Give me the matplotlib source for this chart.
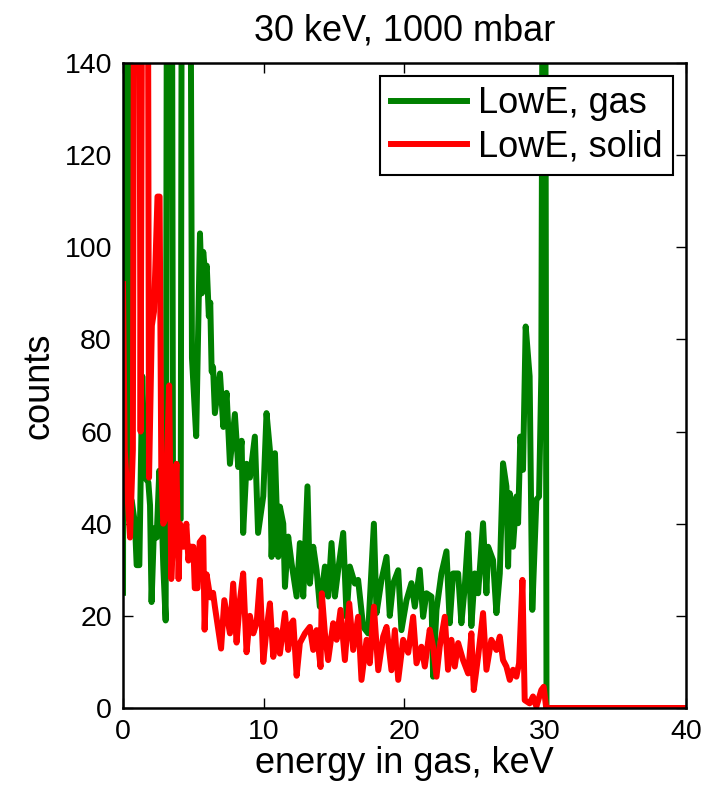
import matplotlib
matplotlib.use("Agg")
import matplotlib.pyplot as plt

plt.rcParams['font.family'] = ['Liberation Sans', 'DejaVu Sans']

# Spectrum: energy deposited in gas (keV) vs. counts
gas_energy = [0.0, 0.1, 0.28, 0.45, 0.62, 0.85, 0.97, 1.16, 1.37, 1.56, 1.8, 1.92,
              2.03, 2.2, 2.39, 2.58, 2.75, 2.86, 3.03, 3.2, 3.4, 3.55, 3.75, 4.0,
              4.1, 4.25, 4.65, 4.9, 5.2, 5.47, 5.6, 5.7, 5.85, 5.95, 6.1, 6.2, 6.3,
              6.4, 6.53, 6.89, 7.13, 7.36, 7.6, 7.95, 8.19, 8.43, 8.54, 8.78, 9.02,
              9.37, 9.6, 9.97, 10.2, 10.44, 10.56, 10.8, 11.03, 11.15, 11.39, 11.51,
              11.74, 11.98, 12.34, 12.57, 12.81, 13.11, 13.28, 13.52, 13.76, 13.99,
              14.35, 14.58, 14.82, 15.06, 15.29, 15.65, 15.89, 16.12, 16.48, 16.71,
              17.07, 17.42, 17.83, 18.02, 18.37, 18.73, 18.96, 19.2, 19.56, 19.79,
              20.15, 20.5, 20.74, 21.09, 21.33, 21.57, 21.92, 22.04, 22.28, 22.63,
              22.99, 23.22, 23.46, 23.82, 24.05, 24.29, 24.53, 24.76, 25.0, 25.24,
              25.59, 25.83, 25.95, 26.3, 26.54, 26.78, 27.01, 27.25, 27.37, 27.49,
              27.72, 27.96, 28.08, 28.24, 28.43, 28.62, 28.9, 29.09, 29.38, 29.57,
              29.73, 29.95, 30.1, 40.0]
gas_counts = [25, 300, 300, 46, 45, 40, 31, 31, 72, 50, 49, 44,
              23, 39, 37, 51.5, 42, 31, 19, 300, 300, 50, 52, 41,
              41, 300, 300, 76, 59, 103, 90, 99, 94, 96, 85, 88, 73,
              74, 64, 72.6, 61, 68.4, 53, 63.8, 52.3, 58, 38, 53, 50,
              58.9, 38, 46, 64, 56, 32.8, 55.3, 32.8, 43.7, 40, 26.3,
              37.2, 31.4, 24.2, 35.8, 24.2, 48.1, 27, 35, 29.9, 22,
              30.7, 24.2, 35.8, 24.2, 29.9, 38, 19.8, 30.7, 27, 27.8,
              17.6, 16.2, 40, 20.6, 27.8, 32.8, 20, 27, 29.9, 16.9,
              23.4, 27.1, 22, 30, 19.8, 24.9, 24.2, 6.8, 21.3, 29.2,
              34, 18.4, 29.2, 29.2, 18.4, 26.3, 37.9, 17.8, 29.2, 24.9,
              40.1, 24.9, 35, 32.1, 20.6, 29.2, 53.1, 48.1, 30.7, 46.6,
              35, 45.9, 40.1, 58.9, 51.7, 82.8, 72, 21.3, 45.2, 45.9,
              72, 300, 0, 0]

solid_energy = [0.0, 0.12, 0.3, 0.5, 0.7, 0.88, 1.05, 1.25, 1.5, 1.68, 1.85, 2.05,
                2.2, 2.45, 2.6, 2.72, 2.86, 3.0, 3.28, 3.43, 3.6, 3.8, 3.95, 4.05,
                4.3, 4.5, 4.65, 4.75, 5.0, 5.1, 5.3, 5.45, 5.7, 5.8, 5.94, 6.2, 6.4,
                6.53, 6.97, 7.2, 7.6, 7.83, 8.07, 8.31, 8.54, 8.78, 9.02, 9.26, 9.5,
                9.73, 9.97, 10.2, 10.44, 10.68, 10.92, 11.15, 11.51, 11.74, 11.98,
                12.1, 12.34, 12.57, 12.93, 13.28, 13.52, 13.76, 14.04, 14.13, 14.35,
                14.58, 14.94, 15.18, 15.46, 15.77, 16.08, 16.36, 16.71, 16.95, 17.31,
                17.54, 17.83, 18.14, 18.49, 18.73, 19.08, 19.32, 19.56, 19.91, 20.27,
                20.62, 20.86, 21.21, 21.45, 21.8, 22.04, 22.28, 22.51, 22.87, 23.1,
                23.34, 23.58, 23.82, 24.17, 24.53, 24.76, 24.93, 25.24, 25.59, 25.83,
                26.18, 26.54, 26.78, 27.01, 27.25, 27.49, 27.72, 27.96, 28.15, 28.39,
                28.55, 28.9, 29.14, 29.38, 29.73, 29.9, 30.08, 40.0]
solid_counts = [92, 56, 47, 37, 56, 300, 300, 60, 300, 300, 50, 83,
                86, 111, 111, 52, 40, 41, 70, 28, 40, 53, 28, 40,
                35, 40, 32, 35, 35, 26, 26, 36, 37, 17, 29, 24, 25,
                22, 12.9, 23.4, 16.2, 27, 14.2, 23.4, 29.2, 12.1, 20, 16.2, 18.5,
                27.8, 10, 17, 22.7, 11.1, 16.9, 11.8, 20.6, 12.6, 18.4,
                19, 7, 14.1, 16.2, 17.6, 12.6, 16.9, 8.9, 24.9, 16.2,
                10.4, 18.4, 14.8, 21.3, 10.4, 22.7, 12.6, 19.8, 6.1, 14.8,
                9.7, 22, 8.2, 15.5, 17.6, 8.2, 16.9, 6.1, 14.8, 12,
                19.8, 9.7, 13.3, 9, 17, 13.3, 6.8, 13.3, 19.8, 8.3,
                14.8, 9, 14.1, 10.4, 7.5, 16.2, 3.9, 11.2, 20.6, 8.3,
                14.8, 12.6, 15.5, 10.4, 9, 6.1, 8.3, 6.8, 9.7, 27.8,
                1.7, 1, 2.5, 0.3, 3.9, 4.6, 0, 0]

fig = plt.figure(figsize=(7.07, 7.90), dpi=100)
ax = fig.add_axes([0.174, 0.1038, 0.796, 0.8165])

ax.plot(gas_energy, gas_counts, color='#008000', lw=4.3,
        solid_joinstyle='round', label='LowE, gas')
ax.plot(solid_energy, solid_counts, color='#ff0000', lw=4.3,
        solid_joinstyle='round', label='LowE, solid')

ax.set_xlim(0, 40)
ax.set_ylim(0, 140)
ax.set_xticks([0, 10, 20, 30, 40])
ax.set_yticks(range(0, 141, 20))
ax.tick_params(direction='in', length=7, width=1, top=True, right=True,
               labelsize=20.5, pad=8, colors='black')
for s in ax.spines.values():
    s.set_linewidth(1.8)

ax.set_xlabel('energy in gas, keV', fontsize=26, labelpad=1)
ax.set_ylabel('counts', fontsize=26, labelpad=6)
ax.set_title('30 keV, 1000 mbar', fontsize=26, pad=16)

leg = ax.legend(loc='upper right', fontsize=26, frameon=True, fancybox=False,
                edgecolor='black', framealpha=1, handlelength=2.1,
                handletextpad=0.3, borderpad=0.3, labelspacing=0.22,
                borderaxespad=0.35)
leg.get_frame().set_linewidth(1.5)
for line in leg.get_lines():
    line.set_linewidth(4.3)

fig.savefig('out.png', dpi=100)
